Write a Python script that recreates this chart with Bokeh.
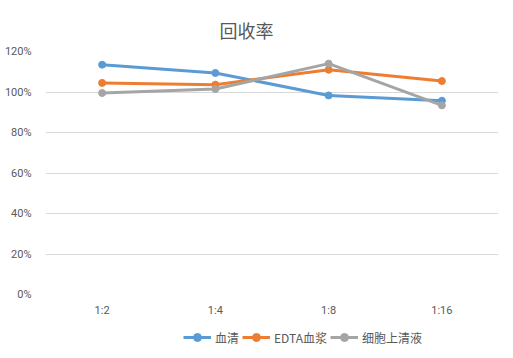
from bokeh.plotting import figure
from bokeh.layouts import column
from bokeh.models import (FactorRange, Range1d, FixedTicker, NumeralTickFormatter,
                          Legend, LegendItem)
from bokeh.embed import file_html
from bokeh.resources import INLINE

categories = ["1:2", "1:4", "1:8", "1:16"]
serum = [1.135, 1.094, 0.983, 0.957]
edta_plasma = [1.045, 1.036, 1.110, 1.054]
supernatant = [0.995, 1.015, 1.140, 0.934]
series_names = ["血清", "EDTA血浆", "细胞上清液"]
colors = ["#5B9BD5", "#ED7D31", "#A5A5A5"]
y_ticks = [0, 0.2, 0.4, 0.6, 0.8, 1.0, 1.2]
all_series = [serum, edta_plasma, supernatant]

p = figure(width=513, height=322, x_range=FactorRange(*categories),
           y_range=Range1d(0, 1.2), output_backend="svg", toolbar_location=None,
           min_border_left=45, min_border_right=15, min_border_top=51,
           min_border_bottom=28)

p.title.text = "回收率"
p.title.text_font = "Noto Sans CJK SC"
p.title.text_font_size = "18px"
p.title.text_font_style = "normal"
p.title.text_color = "#595959"
p.title.align = "left"
p.title.offset = 174
p.title.standoff = 18

p.outline_line_color = None
p.xgrid.grid_line_color = None
p.ygrid.grid_line_color = "#D9D9D9"
p.ygrid.grid_line_width = 1
p.yaxis.ticker = FixedTicker(ticks=y_ticks)
p.yaxis.formatter = NumeralTickFormatter(format="0%")

for ax in (p.xaxis, p.yaxis):
    ax.axis_line_color = None
    ax.major_tick_line_color = None
    ax.minor_tick_line_color = None
    ax.major_label_text_font = "Roboto"
    ax.major_label_text_font_size = "11px"
    ax.major_label_text_color = "#595959"
p.yaxis.major_label_standoff = 8
p.xaxis.major_label_standoff = 3

for name, vals, c in zip(series_names, all_series, colors):
    p.line(categories, vals, line_color=c, line_width=3)
    p.scatter(categories, vals, marker="circle", size=7, fill_color=c, line_color=c)

# legend strip below the chart (its glyphs lie outside its visible range)
q = figure(width=513, height=36, x_range=FactorRange(*categories),
           y_range=Range1d(10, 11), output_backend="svg", toolbar_location=None,
           x_axis_location=None, y_axis_location=None,
           min_border_left=0, min_border_right=0, min_border_top=0,
           min_border_bottom=0)
q.outline_line_color = None
q.grid.grid_line_color = None

items = []
for name, vals, c in zip(series_names, all_series, colors):
    l = q.line(categories, vals, line_color=c, line_width=3)
    s = q.scatter(categories, vals, marker="circle", size=7, fill_color=c, line_color=c)
    items.append(LegendItem(label=name, renderers=[l, s]))

legend = Legend(items=items, orientation="horizontal", location=(138, 11),
                glyph_width=28, glyph_height=20, label_standoff=4, spacing=3,
                padding=0, margin=0, border_line_color=None,
                background_fill_alpha=0,
                label_text_font="Noto Sans CJK SC", label_text_font_size="12px",
                label_text_color="#595959")
q.add_layout(legend, "center")

layout = column(p, q, spacing=0)
open("out.html", "w").write(file_html(layout, INLINE))
